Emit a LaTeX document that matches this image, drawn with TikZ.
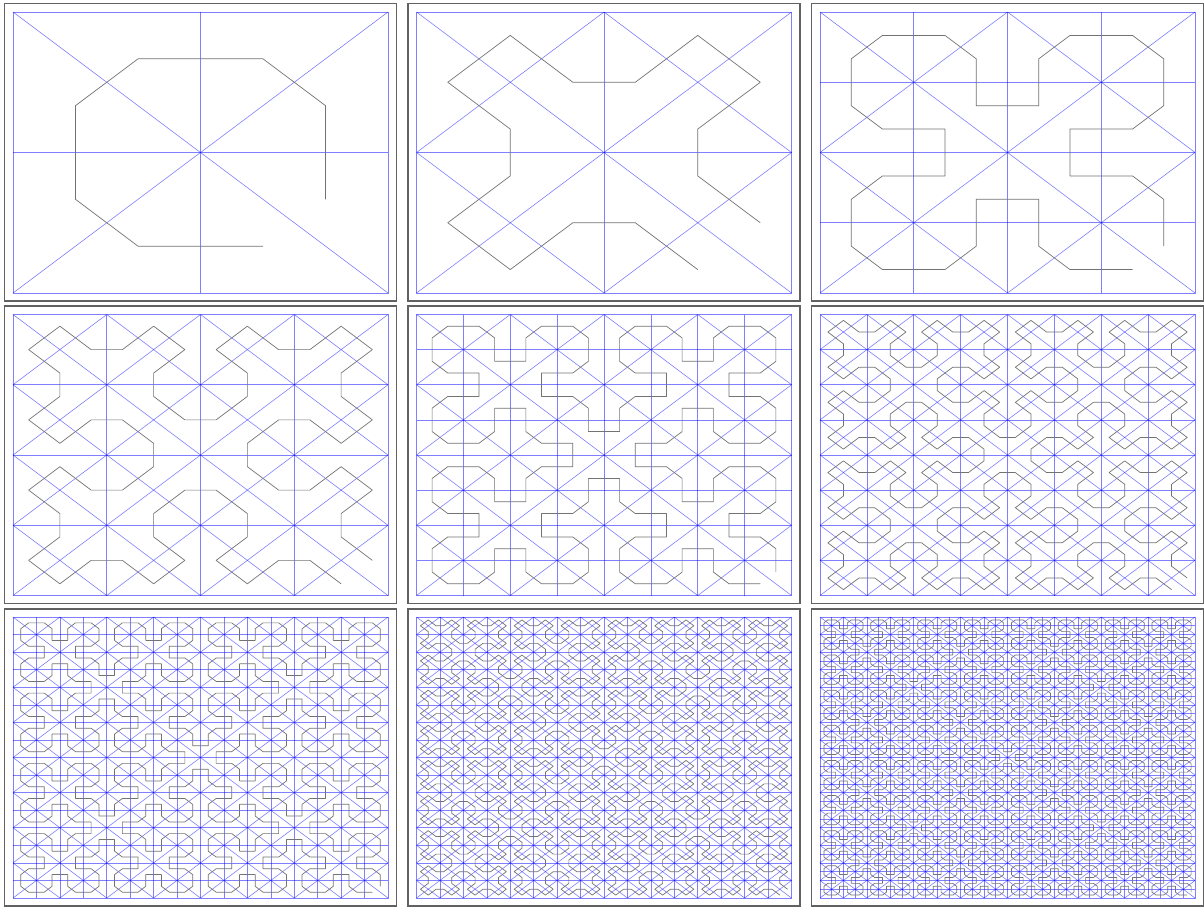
\documentclass[tikz,border=0pt]{standalone}
\newcount\sierpflag
\def\sierpleaf#1#2{%
  \ifnum\sierpflag=0
    \pgfpathmoveto{\pgfqpoint{#1}{#2}}\global\sierpflag=1
  \else
    \pgfpathlineto{\pgfqpoint{#1}{#2}}%
  \fi}
\def\sierp#1#2#3#4#5#6#7{%
  \ifnum#1=0
    \edef\sierpx{\the\dimexpr(#2+#4+#6)/3\relax}%
    \edef\sierpy{\the\dimexpr(#3+#5+#7)/3\relax}%
    \sierpleaf\sierpx\sierpy
  \else
    \edef\sierphx{\the\dimexpr(#2+#6)/2\relax}%
    \edef\sierphy{\the\dimexpr(#3+#7)/2\relax}%
    \edef\sierpd{\the\numexpr#1-1\relax}%
    \edef\sierpnext{%
      \noexpand\sierp{\sierpd}{#2}{#3}{\sierphx}{\sierphy}{#4}{#5}%
      \noexpand\sierp{\sierpd}{#4}{#5}{\sierphx}{\sierphy}{#6}{#7}}%
    \expandafter\sierpnext
  \fi}
\begin{document}
\begin{tikzpicture}[x=1pt,y=1pt,
  gridline/.style={draw=blue,draw opacity=0.5,line width=0.6pt},
  panelframe/.style={draw=black!62,line width=1.6pt}]
\useasboundingbox (0,0) rectangle (1204,-907);
\fill[white] (0,0) rectangle (1204,-907);
\foreach \k in {1,...,9}{
  \pgfmathtruncatemacro\col{mod(\k-1,3)}
  \pgfmathtruncatemacro\row{(\k-1)/3}
  \pgfmathsetmacro\xa{13+403.5*\col}
  \pgfmathsetmacro\xb{\xa+375}
  \pgfmathsetmacro\xc{\xa+187.5}
  \pgfmathsetmacro\ya{-12-302.5*\row}
  \pgfmathsetmacro\yb{\ya-281}
  \pgfmathsetmacro\yc{\ya-140.5}
  \pgfmathtruncatemacro\g{2^ceil(\k/2)}
  \pgfmathtruncatemacro\gm{\g-1}
  \pgfmathtruncatemacro\d{2^floor(\k/2)}
  \pgfmathtruncatemacro\dm{\d-1}
  \draw[gridline] (\xa,\ya) rectangle (\xb,\yb);
  \foreach \i in {1,...,\gm}{
    \draw[gridline] ({\xa+\i*375/\g},\ya) -- ({\xa+\i*375/\g},\yb);
    \draw[gridline] (\xa,{\ya-\i*281/\g}) -- (\xb,{\ya-\i*281/\g});
  }
  \foreach \j in {0,...,\dm}{
    \draw[gridline] ({\xa+\j*375/\d},\ya) -- (\xb,{\yb+\j*281/\d});
    \draw[gridline] ({\xa+\j*375/\d},\yb) -- (\xb,{\ya-\j*281/\d});
  }
  \ifnum\d>1
  \foreach \j in {1,...,\dm}{
    \draw[gridline] (\xa,{\ya-\j*281/\d}) -- ({\xa+\j*375/\d},\ya);
    \draw[gridline] (\xa,{\yb+\j*281/\d}) -- ({\xa+\j*375/\d},\yb);
  }
  \fi
  \global\sierpflag=0
  \begin{pgfscope}
    \pgfsetlinewidth{0.7pt}
    \pgfsetstrokecolor{black!55}
    \pgfsetroundjoin
    \sierp{\k}{\xb pt}{\yb pt}{\xc pt}{\yc pt}{\xa pt}{\yb pt}%
    \sierp{\k}{\xa pt}{\yb pt}{\xc pt}{\yc pt}{\xa pt}{\ya pt}%
    \sierp{\k}{\xa pt}{\ya pt}{\xc pt}{\yc pt}{\xb pt}{\ya pt}%
    \sierp{\k}{\xb pt}{\ya pt}{\xc pt}{\yc pt}{\xb pt}{\yb pt}%
    \pgfusepath{stroke}
  \end{pgfscope}
  \draw[panelframe] ({\xa-8.5},{\ya+8.3}) rectangle ({\xb+8.5},{\yb-8});
}
\end{tikzpicture}
\end{document}
